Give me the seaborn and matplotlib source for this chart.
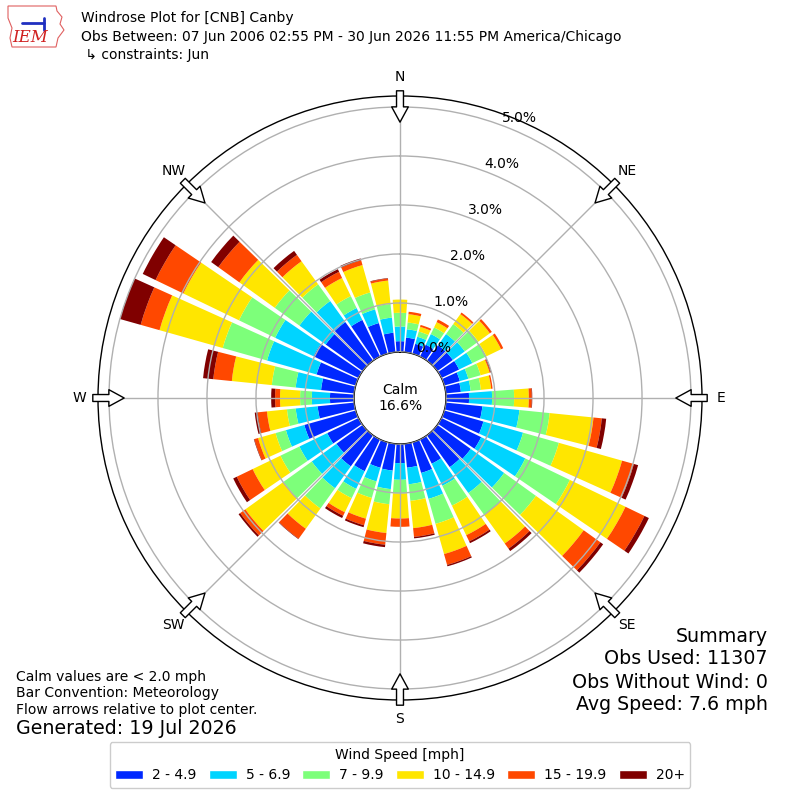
import numpy as np
import matplotlib
matplotlib.use("Agg")
import matplotlib.pyplot as plt
import seaborn as sns
from matplotlib.patches import Patch, Polygon
from matplotlib.lines import Line2D

# wind direction bins (deg, meteorological), 10 degree sectors
directions = np.arange(0, 360, 10)
speed_bins = ["2 - 4.9", "5 - 6.9", "7 - 9.9", "10 - 14.9", "15 - 19.9", "20+"]
bin_colors = ["#0028ff", "#00d4ff", "#7dff7a", "#ffe600", "#ff4800", "#800000"]

# frequency [% of obs] per direction, one list per speed bin
freq_2_5 = [0.22, 0.30, 0.21, 0.27, 0.39, 0.39, 0.40, 0.33, 0.31, 0.47, 0.75, 0.83,
            0.90, 0.84, 0.80, 0.55, 0.65, 0.49, 0.39, 0.55, 0.54, 0.72, 0.78, 0.66,
            0.71, 1.09, 0.75, 0.49, 0.68, 0.83, 1.02, 0.93, 0.97, 0.83, 0.65, 0.40]
freq_5_7 = [0.30, 0.17, 0.15, 0.24, 0.28, 0.30, 0.30, 0.18, 0.20, 0.47, 0.76, 0.84,
            1.00, 0.84, 0.65, 0.50, 0.55, 0.34, 0.34, 0.38, 0.29, 0.40, 0.55, 0.62,
            0.63, 0.39, 0.45, 0.37, 0.52, 1.05, 0.87, 0.66, 0.53, 0.27, 0.29, 0.31]
freq_7_10 = [0.28, 0.14, 0.11, 0.15, 0.25, 0.34, 0.32, 0.26, 0.21, 0.45, 0.62, 0.76,
             1.01, 0.80, 0.55, 0.45, 0.53, 0.34, 0.28, 0.31, 0.35, 0.21, 0.51, 0.71,
             0.43, 0.22, 0.18, 0.24, 0.49, 0.94, 0.82, 0.62, 0.42, 0.27, 0.36, 0.28]
freq_10_15 = [0.27, 0.17, 0.10, 0.12, 0.25, 0.29, 0.33, 0.19, 0.21, 0.30, 0.90, 1.34,
              1.26, 1.20, 0.72, 0.67, 0.64, 0.56, 0.51, 0.59, 0.44, 0.32, 0.51, 0.96,
              0.63, 0.37, 0.41, 0.41, 0.82, 1.34, 1.26, 0.89, 0.58, 0.41, 0.58, 0.48]
freq_15_20 = [0.00, 0.05, 0.04, 0.06, 0.04, 0.05, 0.05, 0.02, 0.03, 0.06, 0.17, 0.25,
              0.43, 0.42, 0.13, 0.14, 0.23, 0.18, 0.17, 0.24, 0.14, 0.08, 0.25, 0.13,
              0.36, 0.08, 0.19, 0.10, 0.38, 0.40, 0.63, 0.53, 0.16, 0.14, 0.10, 0.04]
freq_20up = [0.00, 0.00, 0.00, 0.00, 0.00, 0.00, 0.00, 0.02, 0.00, 0.01, 0.09, 0.09,
             0.10, 0.07, 0.06, 0.04, 0.03, 0.03, 0.00, 0.05, 0.04, 0.05, 0.01, 0.04,
             0.08, 0.01, 0.06, 0.08, 0.21, 0.44, 0.29, 0.18, 0.10, 0.06, 0.04, 0.01]
freqs = [freq_2_5, freq_5_7, freq_7_10, freq_10_15, freq_15_20, freq_20up]

calm_pct = 16.6
ring_ticks = [0, 1, 2, 3, 4, 5]
compass = ["N", "NE", "E", "SE", "S", "SW", "W", "NW"]

sns.set_style("white")
plt.rcParams["font.family"] = ["DejaVu Sans"]
plt.rcParams["text.color"] = "black"
plt.rcParams["xtick.color"] = "black"
plt.rcParams["ytick.color"] = "black"

fig = plt.figure(figsize=(8, 8), dpi=100)
ax = fig.add_axes([0.1225, 0.125, 0.755, 0.755], projection="polar")
ax.set_theta_zero_location("N")
ax.set_theta_direction(-1)

theta = np.deg2rad(directions)
bottom = np.zeros(len(directions))
for vals, col, lab in zip(freqs, bin_colors, speed_bins):
    vals = np.array(vals)
    ax.bar(theta, vals, width=np.deg2rad(8.5), bottom=bottom, color=col,
           label=lab, linewidth=0, zorder=1)
    bottom = bottom + vals

ax.set_ylim(0, 5.224)
ax.set_rorigin(-0.939)
ax.set_axisbelow(False)
ax.grid(True, color="#b0b0b0", lw=1)
ax.set_rticks(ring_ticks)
ax.set_yticklabels(["%.1f%%" % v for v in ring_ticks], fontsize=10)
ax.set_rlabel_position(20.5)
ax.set_thetagrids(range(0, 360, 45), compass)
ax.tick_params(axis="x", pad=3, labelsize=10)
ax.spines["polar"].set_color("black")
ax.spines["polar"].set_linewidth(1)
ax.spines["inner"].set_color("black")
ax.spines["inner"].set_linewidth(1)

ax.text(0.5, 0.5, "Calm\n%.1f%%" % calm_pct, transform=ax.transAxes,
        ha="center", va="center", fontsize=10, linespacing=1.1)

# hollow flow arrows pointing at the centre
for ang in range(0, 360, 45):
    t = np.deg2rad(ang)
    ax.annotate("", xy=(t, 4.69), xytext=(t, 5.33),
                arrowprops=dict(facecolor="white", edgecolor="black", width=5,
                                headwidth=12, headlength=11, shrink=0, lw=1),
                annotation_clip=False, zorder=6)

# header
fig.text(0.101, 1 - 18 / 800, "Windrose Plot for [CNB] Canby", fontsize=10, va="center")
fig.text(0.101, 1 - 37 / 800,
         "Obs Between: 07 Jun 2006 02:55 PM - 30 Jun 2026 11:55 PM America/Chicago",
         fontsize=10, va="center")
fig.text(0.101, 1 - 55 / 800, " \u21b3 constraints: Jun", fontsize=10, va="center")

# IEM logo, roughly
iowa = np.array([(8, 6), (56, 6), (57, 11), (62, 17), (60, 24), (64, 30), (58, 38),
                 (56, 47), (12, 47), (10, 38), (12, 28), (8, 18)], dtype=float)
iowa[:, 0] /= 800
iowa[:, 1] = 1 - iowa[:, 1] / 800
fig.patches.append(Polygon(iowa, closed=True, fill=False, edgecolor="#e06060",
                           lw=0.8, transform=fig.transFigure))
fig.lines.append(Line2D([22 / 800, 44 / 800], [1 - 23 / 800, 1 - 23 / 800],
                        color="#2030c0", lw=2, transform=fig.transFigure))
fig.lines.append(Line2D([44 / 800, 44 / 800], [1 - 18 / 800, 1 - 30 / 800],
                        color="#2030c0", lw=2, transform=fig.transFigure))
fig.text(30 / 800, 1 - 38 / 800, "IEM", color="#d02020", fontsize=12,
         family="DejaVu Serif", style="italic", ha="center", va="center")

# notes
fig.text(0.02, 1 - 677 / 800, "Calm values are < 2.0 mph", fontsize=10, va="center")
fig.text(0.02, 1 - 693 / 800, "Bar Convention: Meteorology", fontsize=10, va="center")
fig.text(0.02, 1 - 710 / 800, "Flow arrows relative to plot center.", fontsize=10, va="center")
fig.text(0.02, 1 - 729 / 800, "Generated: 19 Jul 2026", fontsize=13.7, va="center")

fig.text(0.96, 1 - 636 / 800, "Summary", fontsize=13.7, ha="right", va="center")
fig.text(0.96, 1 - 659 / 800, "Obs Used: 11307", fontsize=13.7, ha="right", va="center")
fig.text(0.96, 1 - 682 / 800, "Obs Without Wind: 0", fontsize=13.7, ha="right", va="center")
fig.text(0.96, 1 - 705 / 800, "Avg Speed: 7.6 mph", fontsize=13.7, ha="right", va="center")

handles = [Patch(facecolor=c, label=l) for c, l in zip(bin_colors, speed_bins)]
fig.legend(handles=handles, ncol=6, loc="center", bbox_to_anchor=(0.5, 1 - 765 / 800),
           title="Wind Speed [mph]", fontsize=10, title_fontsize=10,
           handlelength=2.0, handleheight=0.69, columnspacing=0.89, handletextpad=0.65,
           frameon=True, fancybox=True, edgecolor="#cccccc", framealpha=1)

fig.savefig("out.png", dpi=100)
